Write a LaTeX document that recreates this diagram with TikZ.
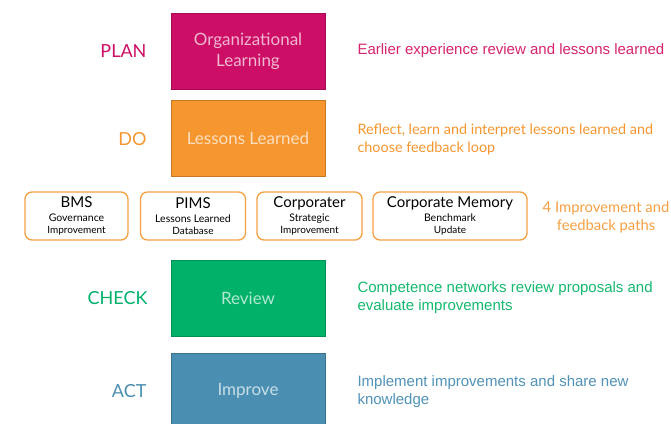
\documentclass[tikz,border=0pt]{standalone}
\usepackage{fontspec}
\setmainfont{Lato}
\newfontfamily\arialfont{Liberation Sans}
\usetikzlibrary{positioning}

\definecolor{cplan}{RGB}{205,14,102}
\definecolor{cdo}{RGB}{245,150,47}
\definecolor{ccheck}{RGB}{0,177,106}
\definecolor{cact}{RGB}{74,143,177}
\definecolor{cplantxt}{RGB}{214,36,110}
\definecolor{cacttxt}{RGB}{80,146,184}
\definecolor{cchecktxt}{RGB}{20,185,110}

\tikzset{
  phase/.style={minimum width=154pt,minimum height=76pt,inner sep=0pt,
    align=center,font=\fontsize{17}{21}\selectfont,draw=#1!80!black,fill=#1,
    text=white!70!#1,line width=0.6pt},
  tag/.style={anchor=east,font=\fontsize{18}{20}\selectfont,text=#1},
  note/.style={anchor=west,align=left,font=\arialfont\fontsize{15}{18}\selectfont,text=#1},
  loopbox/.style={draw=cdo!90,line width=1.3pt,rounded corners=7pt,fill=white,
    minimum height=48pt,inner sep=0pt,align=center},
}

\newcommand{\looptext}[3]{\fontsize{15}{15}\selectfont #1\\[2.5pt]\fontsize{10.5}{14.5}\selectfont #2\\#3}

\begin{document}
\begin{tikzpicture}[x=1pt,y=-1pt]
%
\clip (0,0) rectangle (671,423);
\fill[white] (0,0) rectangle (671,423);
%
\node[phase=cplan] (plan) at (248,51) {Organizational\\Learning};
\node[phase=cdo] (do) at (248,138) {Lessons Learned};
\node[phase=ccheck] (check) at (248,298) {Review};
\node[phase=cact] (act) at (248,391) {Improve};
%
\node[tag=cplan] (plantag) at (150,51) {PLAN};
\node[tag=cdo] (dotag) at (150,139) {DO};
\node[tag=ccheck] (checktag) at (151,298) {CHECK};
\node[tag=cact] (acttag) at (150,391) {ACT};
%
\node[note=cplantxt] (plannote) at (354,51) {Earlier experience review and lessons learned};
\node[note=cdo,font=\fontsize{14.4}{18}\selectfont] (donote) at (354,139) {Reflect, learn and interpret lessons learned and\\choose feedback loop};
\node[note=cchecktxt] (checknote) at (354,298) {Competence networks review proposals and\\evaluate improvements};
\node[note=cacttxt] (actnote) at (354,392) {Implement improvements and share new\\knowledge};
%
\node[loopbox,minimum width=103pt] (bms) at (76.5,216) {\looptext{BMS}{Governance}{Improvement}};
\node[loopbox,minimum width=105pt] (pims) at (193,216) {\looptext{PIMS}{Lessons Learned}{Database}};
\node[loopbox,minimum width=105pt] (corp) at (309.5,216) {\looptext{Corporater}{Strategic}{Improvement}};
\node[loopbox,minimum width=154pt] (mem) at (450,216) {\looptext{Corporate Memory}{Benchmark}{Update}};
%
\node[align=center,text=cdo!90,font=\fontsize{14.8}{18}\selectfont] (paths) at (606,217) {4 Improvement and\\feedback paths};
%
\end{tikzpicture}
\end{document}
